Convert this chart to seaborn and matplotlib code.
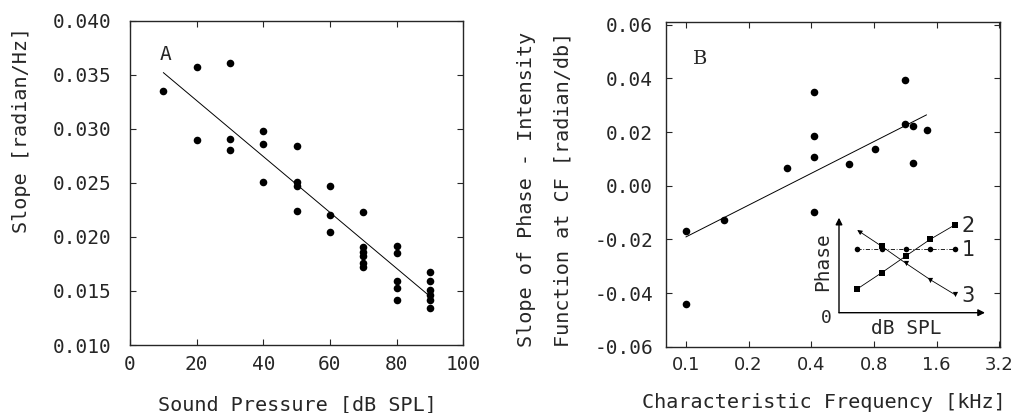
import matplotlib
matplotlib.use('Agg')
import matplotlib.pyplot as plt
import seaborn as sns

# Panel A: slope vs sound pressure
spl_db = [10, 20, 20, 30, 30, 30, 40, 40, 40, 50, 50, 50, 50, 60, 60, 60,
          70, 70, 70, 70, 70, 70, 80, 80, 80, 80, 80, 90, 90, 90, 90, 90, 90]
slope_a = [0.0335, 0.0357, 0.0290, 0.0361, 0.0291, 0.0280, 0.0298, 0.0286, 0.0251,
           0.0284, 0.0251, 0.0247, 0.0224, 0.0247, 0.0220, 0.0205,
           0.0223, 0.0191, 0.0186, 0.0182, 0.0176, 0.0172,
           0.0192, 0.0185, 0.0159, 0.0153, 0.0142,
           0.0168, 0.0159, 0.0151, 0.0146, 0.0142, 0.0134]
fit_a_x = [10, 90]
fit_a_y = [0.0352, 0.0145]
a_xticks = [0, 20, 40, 60, 80, 100]
a_yticks = [0.010, 0.015, 0.020, 0.025, 0.030, 0.035, 0.040]
a_ylabels = ['0.010', '0.015', '0.020', '0.025', '0.030', '0.035', '0.040']

# Panel B: slope of phase-intensity function vs CF
cf_khz = [0.1, 0.1, 0.153, 0.305, 0.41, 0.41, 0.41, 0.41, 0.61, 0.81,
          1.13, 1.13, 1.23, 1.23, 1.44]
slope_b = [-0.0168, -0.0442, -0.0128, 0.0065, 0.0351, 0.0187, 0.0108, -0.0097,
           0.0081, 0.0138, 0.0395, 0.0229, 0.0221, 0.0086, 0.0209]
fit_b_x = [0.1, 1.43]
fit_b_y = [-0.0191, 0.0264]
b_xticks = [0.1, 0.2, 0.4, 0.8, 1.6, 3.2]
b_xlabels = ['0.1', '0.2', '0.4', '0.8', '1.6', '3.2']
b_yticks = [-0.06, -0.04, -0.02, 0.00, 0.02, 0.04, 0.06]
b_ylabels = ['-0.06', '-0.04', '-0.02', '0.00', '0.02', '0.04', '0.06']

# Inset: schematic phase vs level
inset_level = [0.75, 1.75, 2.75, 3.75, 4.75]
phase_1 = [2.69, 2.69, 2.69, 2.69, 2.69]
phase_2 = [1.00, 1.68, 2.39, 3.09, 3.69]
phase_3 = [3.48, 2.80, 2.08, 1.39, 0.77]

sns.set_style('ticks')
mono = ['DejaVu Sans Mono', 'DejaVu Sans']
plt.rcParams['font.family'] = mono
plt.rcParams['axes.linewidth'] = 1.0

fig = plt.figure(figsize=(10.21, 4.13), dpi=100)
ax_a = fig.add_axes([0.1273, 0.1646, 0.3265, 0.7853])
ax_b = fig.add_axes([0.6520, 0.1605, 0.3274, 0.7862])

# ---- panel A
sns.scatterplot(x=spl_db, y=slope_a, ax=ax_a, color='k', s=30, edgecolor='k', linewidth=0)
sns.lineplot(x=fit_a_x, y=fit_a_y, ax=ax_a, color='k', linewidth=0.7)
ax_a.set_xlim(0, 100)
ax_a.set_ylim(0.010, 0.040)
ax_a.set_xticks(a_xticks)
ax_a.set_yticks(a_yticks)
ax_a.set_yticklabels(a_ylabels)
ax_a.tick_params(axis='both', direction='in', length=4, width=0.8, top=True, right=True,
                 labelsize=14)
ax_a.tick_params(axis='y', pad=13)
ax_a.tick_params(axis='x', pad=7)
ax_a.text(0.107, 0.895, 'A', transform=ax_a.transAxes, fontsize=14, ha='center', va='center')

# ---- panel B
sns.scatterplot(x=cf_khz, y=slope_b, ax=ax_b, color='k', s=30, edgecolor='k', linewidth=0)
sns.lineplot(x=fit_b_x, y=fit_b_y, ax=ax_b, color='k', linewidth=0.7)
ax_b.set_xscale('log', base=2)
ax_b.set_xlim(0.08, 3.22)
ax_b.set_ylim(-0.06, 0.061)
ax_b.set_xticks(b_xticks)
ax_b.set_xticklabels(b_xlabels, family='DejaVu Sans', fontsize=13)
ax_b.minorticks_off()
ax_b.set_yticks(b_yticks)
ax_b.set_yticklabels(b_ylabels)
ax_b.tick_params(axis='both', direction='in', length=4, width=0.8, top=True, right=True)
ax_b.tick_params(axis='y', pad=9, labelsize=14)
ax_b.tick_params(axis='x', pad=7)
ax_b.text(0.104, 0.885, 'B', transform=ax_b.transAxes, fontsize=14, ha='center', va='center',
          family='DejaVu Serif')

# ---- axis labels
fig.text(297.5 / 1021, 1 - 405 / 413, 'Sound Pressure [dB SPL]', ha='center', va='center', fontsize=14.5)
fig.text(21.7 / 1021, 1 - 130 / 413, 'Slope [radian/Hz]', rotation=90, ha='center', va='center',
         fontsize=14.5)
fig.text(824 / 1021, 1 - 402 / 413, 'Characteristic Frequency [kHz]', ha='center', va='center',
         fontsize=14.5)
fig.text(526 / 1021, 1 - 347 / 413, 'Slope of Phase - Intensity', rotation=90, ha='center',
         va='bottom', fontsize=14.5)
fig.text(562.5 / 1021, 1 - 347 / 413, 'Function at CF [radian/db]', rotation=90, ha='center',
         va='bottom', fontsize=14.5)

# ---- inset
ax_i = fig.add_axes([839 / 1021, 1 - 312.7 / 413, 146 / 1021, 95 / 413])
ax_i.set_xlim(0, 6)
ax_i.set_ylim(0, 4)
ax_i.patch.set_alpha(0)
for sp in ax_i.spines.values():
    sp.set_visible(False)
ax_i.set_xticks([])
ax_i.set_yticks([])
arrow = dict(arrowstyle='-|>', color='k', lw=1.0, mutation_scale=10, shrinkA=0, shrinkB=0)
ax_i.annotate('', xy=(0, 1), xytext=(0, 0), xycoords='axes fraction', arrowprops=arrow)
ax_i.annotate('', xy=(1, 0), xytext=(0, 0), xycoords='axes fraction', arrowprops=arrow)

sns.lineplot(x=inset_level, y=phase_1, ax=ax_i, color='k', linewidth=0.6,
             linestyle=(0, (5, 2, 1, 2)), marker='o', markersize=4, markeredgewidth=0)
sns.lineplot(x=inset_level, y=phase_2, ax=ax_i, color='k', linewidth=0.6,
             marker='s', markersize=4, markeredgewidth=0)
sns.lineplot(x=inset_level[1:], y=phase_3[1:], ax=ax_i, color='k', linewidth=0.6)
sns.scatterplot(x=inset_level[1:2], y=phase_3[1:2], ax=ax_i, color='k', marker='s', s=18, linewidth=0)
sns.scatterplot(x=inset_level[2:], y=phase_3[2:], ax=ax_i, color='k', marker='v', s=14, linewidth=0)
ax_i.annotate('', xy=(inset_level[0], phase_3[0]), xytext=(inset_level[1], phase_3[1]),
              arrowprops=dict(arrowstyle='-|>', color='k', lw=0.6, mutation_scale=7,
                              shrinkA=0, shrinkB=0))

for lab, ys in [('2', phase_2), ('1', phase_1), ('3', phase_3)]:
    ax_i.annotate(lab, xy=(inset_level[-1], ys[-1]), xytext=(10, -1), textcoords='offset points',
                  ha='center', va='center', fontsize=15, family='DejaVu Sans')

ax_i.text(-0.112, 0.537, 'Phase', transform=ax_i.transAxes, rotation=90, ha='center', va='center',
          fontsize=14)
ax_i.text(-0.084, -0.059, '0', transform=ax_i.transAxes, ha='center', va='center', fontsize=13)
ax_i.text(0.464, -0.164, 'dB SPL', transform=ax_i.transAxes, ha='center', va='center', fontsize=14)

fig.savefig('out.png', dpi=100)
